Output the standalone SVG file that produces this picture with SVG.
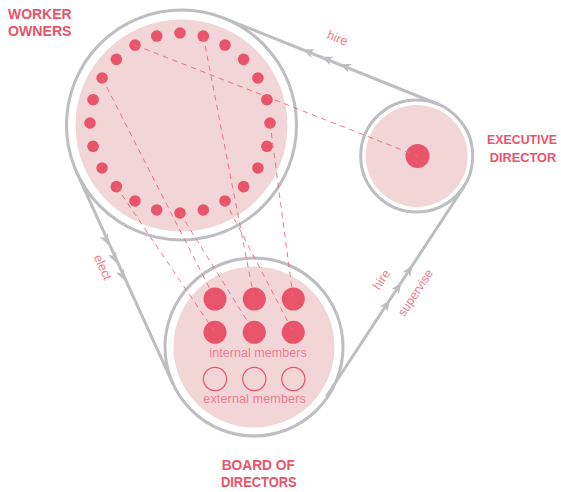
<svg xmlns="http://www.w3.org/2000/svg" xmlns:xlink="http://www.w3.org/1999/xlink" width="561" height="492" viewBox="0 0 561 492">
  <defs>
    <style>
      .ring { fill: none; stroke: #bdbec1; stroke-width: 3; }
      .fill { fill: #f2d5d6; }
      .dot { fill: #e8546a; }
      .seat { fill: none; stroke: #e8546a; stroke-width: 1.2; }
      .belt { fill: none; stroke: #bdbec1; stroke-width: 3; stroke-linecap: round; }
      .link { fill: none; stroke: #ec6b7e; stroke-width: 1; stroke-dasharray: 5.5 4.5; opacity: 0.9; }
      .head { fill: #e8546a; font-family: "Liberation Sans", Arial, sans-serif; font-weight: bold; font-size: 14.5px; text-anchor: middle; }
      .side { font-size: 13px; }
      .label { fill: #ef7d8d; font-family: "Liberation Sans", Arial, sans-serif; font-size: 12.5px; text-anchor: middle; }
      .arrow { fill: #bdbec1; }
    </style>
    <path id="tip" d="M0,0 L-11,-4.6 L-8,0 L-11,4.6 Z"/>
  </defs>

  <!-- belts joining the three circles, with direction arrows -->
  <g id="connectors">
    <line class="belt" x1="224.4" y1="18.3" x2="437.6" y2="104"/>
    <line class="belt" x1="76.8" y1="172.6" x2="173" y2="383.9"/>
    <line class="belt" x1="327" y1="395.5" x2="463.5" y2="187.5"/>
    <g class="arrow">
      <use xlink:href="#tip" transform="translate(303,49.4) rotate(201.9)"/>
      <use xlink:href="#tip" transform="translate(321.5,56.8) rotate(201.9)"/>
      <use xlink:href="#tip" transform="translate(340,64.2) rotate(201.9)"/>
      <use xlink:href="#tip" transform="translate(108.3,245) rotate(65.5)"/>
      <use xlink:href="#tip" transform="translate(116.6,263) rotate(65.5)"/>
      <use xlink:href="#tip" transform="translate(124.5,280.5) rotate(65.5)"/>
      <use xlink:href="#tip" transform="translate(389.8,300) rotate(-56.7)"/>
      <use xlink:href="#tip" transform="translate(401.2,282.5) rotate(-56.7)"/>
      <use xlink:href="#tip" transform="translate(412.4,265.5) rotate(-56.7)"/>
    </g>
    <text class="label" transform="translate(336,42) rotate(21.9)">hire</text>
    <text class="label" transform="translate(99,269) rotate(65.5)">elect</text>
    <text class="label" transform="translate(385,282) rotate(-56.7)">hire</text>
    <text class="label" transform="translate(419,295) rotate(-56.7)">supervise</text>
  </g>

  <!-- worker owners -->
  <g id="worker-owners">
    <circle class="ring" cx="181.5" cy="125" r="115"/>
    <circle class="fill" cx="181.5" cy="125.5" r="106"/>
    <g class="dot">
      <circle cx="270" cy="123" r="5.8"/>
      <circle cx="266.93" cy="146.29" r="5.8"/>
      <circle cx="257.94" cy="168" r="5.8"/>
      <circle cx="243.64" cy="186.64" r="5.8"/>
      <circle cx="225" cy="200.94" r="5.8"/>
      <circle cx="203.29" cy="209.93" r="5.8"/>
      <circle cx="180" cy="213" r="5.8"/>
      <circle cx="156.71" cy="209.93" r="5.8"/>
      <circle cx="135" cy="200.94" r="5.8"/>
      <circle cx="116.36" cy="186.64" r="5.8"/>
      <circle cx="102.06" cy="168" r="5.8"/>
      <circle cx="93.07" cy="146.29" r="5.8"/>
      <circle cx="90" cy="123" r="5.8"/>
      <circle cx="93.07" cy="99.71" r="5.8"/>
      <circle cx="102.06" cy="78" r="5.8"/>
      <circle cx="116.36" cy="59.36" r="5.8"/>
      <circle cx="135" cy="45.06" r="5.8"/>
      <circle cx="156.71" cy="36.07" r="5.8"/>
      <circle cx="180" cy="33" r="5.8"/>
      <circle cx="203.29" cy="36.07" r="5.8"/>
      <circle cx="225" cy="45.06" r="5.8"/>
      <circle cx="243.64" cy="59.36" r="5.8"/>
      <circle cx="257.94" cy="78" r="5.8"/>
      <circle cx="266.93" cy="99.71" r="5.8"/>
    </g>
    <text class="head" style="text-anchor:start" x="8" y="19.2" textLength="63.5" lengthAdjust="spacingAndGlyphs">WORKER</text>
    <text class="head" style="text-anchor:start" x="8" y="35.9" textLength="63.5" lengthAdjust="spacingAndGlyphs">OWNERS</text>
  </g>

  <!-- executive director -->
  <g id="executive-director">
    <circle class="ring" cx="416.7" cy="156" r="56"/>
    <circle class="fill" cx="416.7" cy="156" r="51"/>
    <circle class="dot" cx="417.5" cy="156" r="12"/>
    <text class="head side" x="522" y="144" textLength="70" lengthAdjust="spacingAndGlyphs">EXECUTIVE</text>
    <text class="head side" x="523" y="162.3" textLength="66.5" lengthAdjust="spacingAndGlyphs">DIRECTOR</text>
  </g>

  <!-- board of directors -->
  <g id="board-of-directors">
    <circle class="ring" cx="254" cy="347" r="89"/>
    <circle class="fill" cx="254" cy="347" r="80.5"/>
    <g class="dot">
      <circle cx="215" cy="299" r="11.5"/>
      <circle cx="254.3" cy="299" r="11.5"/>
      <circle cx="293.3" cy="299" r="11.5"/>
      <circle cx="215" cy="332.3" r="11.5"/>
      <circle cx="254.3" cy="332.3" r="11.5"/>
      <circle cx="293.3" cy="332.3" r="11.5"/>
    </g>
    <circle class="seat" cx="215" cy="379" r="11.6"/>
    <circle class="seat" cx="254.3" cy="379" r="11.6"/>
    <circle class="seat" cx="293.3" cy="379" r="11.6"/>
    <text class="label" x="258" y="357.3" textLength="97.4">internal members</text>
    <text class="label" x="254.5" y="402.7" textLength="102.4">external members</text>
    <text class="head" x="258.3" y="470.2" textLength="73.3" lengthAdjust="spacingAndGlyphs">BOARD OF</text>
    <text class="head" x="258.8" y="486.9" textLength="75.7" lengthAdjust="spacingAndGlyphs">DIRECTORS</text>
  </g>

  <!-- representation links from members to seats -->
  <g id="links">
    <line class="link" x1="135" y1="45.06" x2="417.5" y2="156"/>
    <line class="link" x1="102.06" y1="78" x2="215" y2="299"/>
    <line class="link" x1="203.29" y1="36.07" x2="254.3" y2="299"/>
    <line class="link" x1="270" y1="123" x2="293.3" y2="299"/>
    <line class="link" x1="116.36" y1="186.64" x2="215" y2="332.3"/>
    <line class="link" x1="180" y1="213" x2="254.3" y2="332.3"/>
    <line class="link" x1="225" y1="200.94" x2="293.3" y2="332.3"/>
  </g>
</svg>
